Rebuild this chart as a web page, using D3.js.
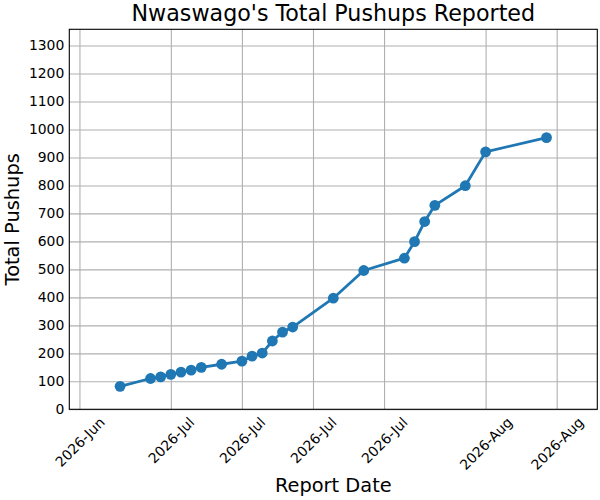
<!DOCTYPE html>
<html>
<head>
<meta charset="utf-8">
<script src="https://cdn.jsdelivr.net/npm/d3@7"></script>
<style>
  body { margin: 0; background: #fff; }
  text { font-family: "DejaVu Sans", sans-serif; fill: #000; }
</style>
</head>
<body>
<svg id="chart" width="600" height="500"></svg>
<script>
// data
const reportDates = [
  "2026-06-26", "2026-06-29", "2026-06-30", "2026-07-01", "2026-07-02",
  "2026-07-03", "2026-07-04", "2026-07-06", "2026-07-08", "2026-07-09",
  "2026-07-10", "2026-07-11", "2026-07-12", "2026-07-13", "2026-07-17",
  "2026-07-20", "2026-07-24", "2026-07-25", "2026-07-26", "2026-07-27",
  "2026-07-30", "2026-08-01", "2026-08-07"
];
const totalPushups = [
  82, 110, 116, 125, 133, 140, 150, 161, 172, 190,
  201, 244, 276, 294, 397, 496, 540, 599, 671, 729,
  799, 920, 971
];
const xDomain = ["2026-06-21", "2026-08-12"];
const xTickDates = ["2026-06-22", "2026-07-01", "2026-07-08", "2026-07-15", "2026-07-22", "2026-08-01", "2026-08-08"];
const xTickLabels = ["2026-Jun", "2026-Jul", "2026-Jul", "2026-Jul", "2026-Jul", "2026-Aug", "2026-Aug"];
const yTicks = [0, 100, 200, 300, 400, 500, 600, 700, 800, 900, 1000, 1100, 1200, 1300];
const yMax = 1358;

const parse = d3.timeParse("%Y-%m-%d");
const data = reportDates.map((d, i) => ({ date: parse(d), value: totalPushups[i] }));

const box = { left: 69.3, top: 29.3, right: 597.3, bottom: 409.3 };
const width = box.right - box.left;
const height = box.bottom - box.top;
const color = "#1f77b4";

const svg = d3.select("#chart");

const x = d3.scaleTime().domain(xDomain.map(parse)).range([box.left, box.right]);
const y = d3.scaleLinear().domain([0, yMax]).range([box.bottom, box.top]);

// grid
const gGrid = svg.append("g");
gGrid.append("g")
  .attr("transform", `translate(0, ${box.bottom})`)
  .call(d3.axisBottom(x).tickValues(xTickDates.map(parse)).tickSize(-height).tickFormat(""))
  .call(g => g.select(".domain").remove());
gGrid.append("g")
  .attr("transform", `translate(${box.left}, 0)`)
  .call(d3.axisLeft(y).tickValues(yTicks).tickSize(-width).tickFormat(""))
  .call(g => g.select(".domain").remove());
gGrid.selectAll("line").attr("stroke", "#b0b0b0").attr("stroke-width", 1.1);

// line + markers
const line = d3.line().x(d => x(d.date)).y(d => y(d.value));
svg.append("path")
  .datum(data)
  .attr("fill", "none")
  .attr("stroke", color)
  .attr("stroke-width", 2.8)
  .attr("stroke-linejoin", "round")
  .attr("d", line);

svg.append("g")
  .selectAll("circle")
  .data(data)
  .join("circle")
  .attr("cx", d => x(d.date))
  .attr("cy", d => y(d.value))
  .attr("r", 5.4)
  .attr("fill", color);

// spines
svg.append("rect")
  .attr("x", box.left).attr("y", box.top)
  .attr("width", width).attr("height", height)
  .attr("fill", "none").attr("stroke", "#000").attr("stroke-width", 1.1);

// y axis labels
const gy = svg.append("g")
  .attr("transform", `translate(${box.left}, 0)`)
  .call(d3.axisLeft(y).tickValues(yTicks).tickSize(0).tickPadding(5).tickFormat(d3.format("d")));
gy.select(".domain").remove();
gy.selectAll("text")
  .style("font-family", "DejaVu Sans, sans-serif")
  .style("font-size", "13.9px")
  .attr("fill", "#000");

// x axis labels, rotated 45 and centred on the tick
const gx = svg.append("g")
  .attr("transform", `translate(0, ${box.bottom})`)
  .call(d3.axisBottom(x).tickValues(xTickDates.map(parse)).tickSize(0)
    .tickFormat((d, i) => xTickLabels[i]));
gx.select(".domain").remove();
gx.selectAll("text")
  .style("font-family", "DejaVu Sans, sans-serif")
  .style("font-size", "13.9px")
  .attr("fill", "#000")
  .attr("text-anchor", "middle")
  .attr("y", 0)
  .attr("dy", "0.35em")
  .attr("transform", function () {
    const w = this.getComputedTextLength();
    const half = (w + 16) * Math.SQRT1_2 / 2;
    return `translate(0, ${4.9 + half}) rotate(-45)`;
  });

// titles
svg.append("text")
  .attr("x", (box.left + box.right) / 2)
  .attr("y", 21)
  .attr("text-anchor", "middle")
  .style("font-size", "22.2px")
  .text("Nwaswago's Total Pushups Reported");

svg.append("text")
  .attr("x", (box.left + box.right) / 2)
  .attr("y", 492)
  .attr("text-anchor", "middle")
  .style("font-size", "19.4px")
  .text("Report Date");

svg.append("text")
  .attr("transform", `translate(19, ${(box.top + box.bottom) / 2}) rotate(-90)`)
  .attr("text-anchor", "middle")
  .style("font-size", "19.4px")
  .text("Total Pushups");
</script>
</body>
</html>
